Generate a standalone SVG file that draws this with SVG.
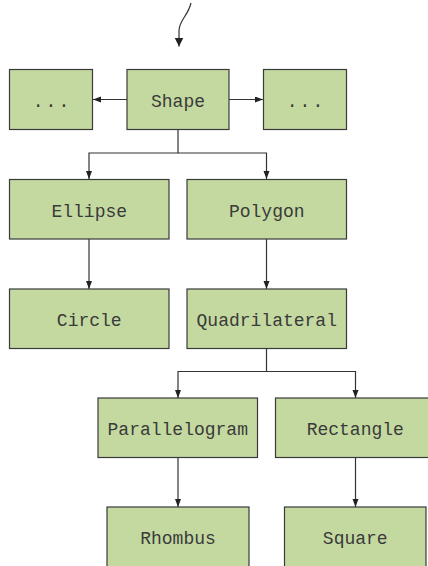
<svg xmlns="http://www.w3.org/2000/svg" width="428" height="566" viewBox="0 0 428 566">
<defs>
<style>
.box{fill:#c4d9a0;stroke:#3a3a3a;stroke-width:1.2}
.lbl{font-family:"Liberation Mono","DejaVu Sans Mono",monospace;font-size:18px;fill:#3a3a3a;text-anchor:middle}
.dots{letter-spacing:2px}
.conn{fill:none;stroke:#333;stroke-width:1.2}
</style>
<marker id="ah" markerUnits="userSpaceOnUse" markerWidth="9" markerHeight="7" refX="8" refY="3" orient="auto">
<path d="M0,0 L8,3 L0,6 z" fill="#222"/>
</marker>
<marker id="ahBig" markerUnits="userSpaceOnUse" markerWidth="11" markerHeight="11" refX="9" refY="4.5" orient="auto">
<path d="M0,0 L9,4.5 L0,9 z" fill="#222"/>
</marker>
</defs>
<g id="connectors">
<path class="conn" d="M191,3 C188,16 179,20 179,31 L179,46.5" marker-end="url(#ahBig)"/>
<path class="conn" d="M127,99.5 H93" marker-end="url(#ah)"/>
<path class="conn" d="M229,99.5 H263" marker-end="url(#ah)"/>
<path class="conn" d="M178,129.5 V153 H89 V179" marker-end="url(#ah)"/>
<path class="conn" d="M178,153 H266.5 V179" marker-end="url(#ah)"/>
<path class="conn" d="M89,239 V289" marker-end="url(#ah)"/>
<path class="conn" d="M266.5,239 V289" marker-end="url(#ah)"/>
<path class="conn" d="M266.5,348.5 V371.5 H178 V398" marker-end="url(#ah)"/>
<path class="conn" d="M266.5,371.5 H355.5 V398" marker-end="url(#ah)"/>
<path class="conn" d="M178,457.5 V507" marker-end="url(#ah)"/>
<path class="conn" d="M355.5,457.5 V507" marker-end="url(#ah)"/>
</g>
<g id="node-left">
<rect class="box" x="9.5" y="69.5" width="83" height="60"/>
<text class="lbl dots" x="52" y="106.5">...</text>
</g>
<g id="node-shape">
<rect class="box" x="127" y="69.5" width="102" height="60"/>
<text class="lbl" x="178" y="106.5">Shape</text>
</g>
<g id="node-right">
<rect class="box" x="263.5" y="69.5" width="83" height="60"/>
<text class="lbl dots" x="306" y="106.5">...</text>
</g>
<g id="node-ellipse">
<rect class="box" x="9.5" y="179.5" width="159.5" height="59.5"/>
<text class="lbl" x="89.25" y="216.5">Ellipse</text>
</g>
<g id="node-polygon">
<rect class="box" x="187" y="179.5" width="159.5" height="59.5"/>
<text class="lbl" x="266.75" y="216.5">Polygon</text>
</g>
<g id="node-circle">
<rect class="box" x="9.5" y="289" width="159.5" height="59.5"/>
<text class="lbl" x="89.25" y="326">Circle</text>
</g>
<g id="node-quadrilateral">
<rect class="box" x="187" y="289" width="159.5" height="59.5"/>
<text class="lbl" x="266.75" y="326">Quadrilateral</text>
</g>
<g id="node-parallelogram">
<rect class="box" x="98" y="398" width="159.5" height="59.5"/>
<text class="lbl" x="177.75" y="435">Parallelogram</text>
</g>
<g id="node-rectangle">
<rect class="box" x="275.5" y="398" width="159.5" height="59.5"/>
<text class="lbl" x="355.25" y="435">Rectangle</text>
</g>
<g id="node-rhombus">
<rect class="box" x="107" y="507" width="142" height="62"/>
<text class="lbl" x="178" y="544">Rhombus</text>
</g>
<g id="node-square">
<rect class="box" x="284.5" y="507" width="141.5" height="62"/>
<text class="lbl" x="355.25" y="544">Square</text>
</g>
</svg>
